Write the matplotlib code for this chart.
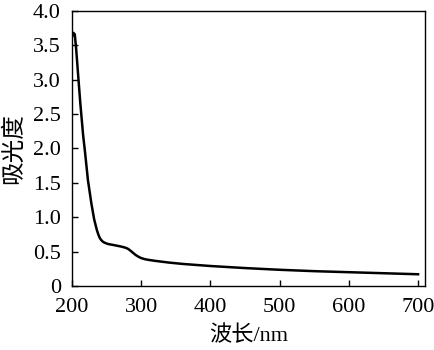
import matplotlib
matplotlib.use("Agg")
import matplotlib.pyplot as plt
from matplotlib.ticker import FuncFormatter

# absorbance spectrum
wavelength = [200, 202, 204, 206, 209, 212, 216, 219, 223, 228, 232, 236, 238, 240,
              242, 245, 248, 252, 260, 270, 276, 280, 283, 286, 289, 292, 296, 300,
              305, 310, 320, 340, 360, 400, 450, 500, 550, 600, 650, 700]
absorbance = [3.62, 3.68, 3.66, 3.45, 3.05, 2.66, 2.20, 1.93, 1.54, 1.20, 0.97, 0.81,
              0.75, 0.70, 0.67, 0.64, 0.625, 0.61, 0.595, 0.575, 0.56, 0.545, 0.525,
              0.50, 0.475, 0.45, 0.425, 0.405, 0.39, 0.38, 0.365, 0.34, 0.32, 0.29,
              0.26, 0.235, 0.215, 0.20, 0.185, 0.17]
x_ticks = [200, 300, 400, 500, 600, 700]
y_ticks = [0, 0.5, 1.0, 1.5, 2.0, 2.5, 3.0, 3.5, 4.0]

plt.rcParams['font.family'] = ['Liberation Serif', 'Noto Sans CJK SC']

fig = plt.figure(figsize=(4.35, 3.5), dpi=100)
ax = fig.add_axes([0.1655, 0.183, 0.8115, 0.786])
ax.plot(wavelength, absorbance, color='black', linewidth=1.8)

ax.set_xlim(200, 710)
ax.set_ylim(0, 4.0)
ax.set_xticks(x_ticks)
ax.set_yticks(y_ticks)
ax.yaxis.set_major_formatter(FuncFormatter(lambda v, p: '0' if v == 0 else f'{v:.1f}'))
ax.tick_params(direction='in', length=4, width=1, labelsize=16)
ax.tick_params(axis='x', pad=9)
ax.tick_params(axis='y', pad=8)
for s in ax.spines.values():
    s.set_linewidth(1)

ax.set_xlabel('波长/nm', fontsize=16, labelpad=6)
ax.set_ylabel('吸光度', fontsize=17, labelpad=6)

fig.savefig('out.png', dpi=100)
